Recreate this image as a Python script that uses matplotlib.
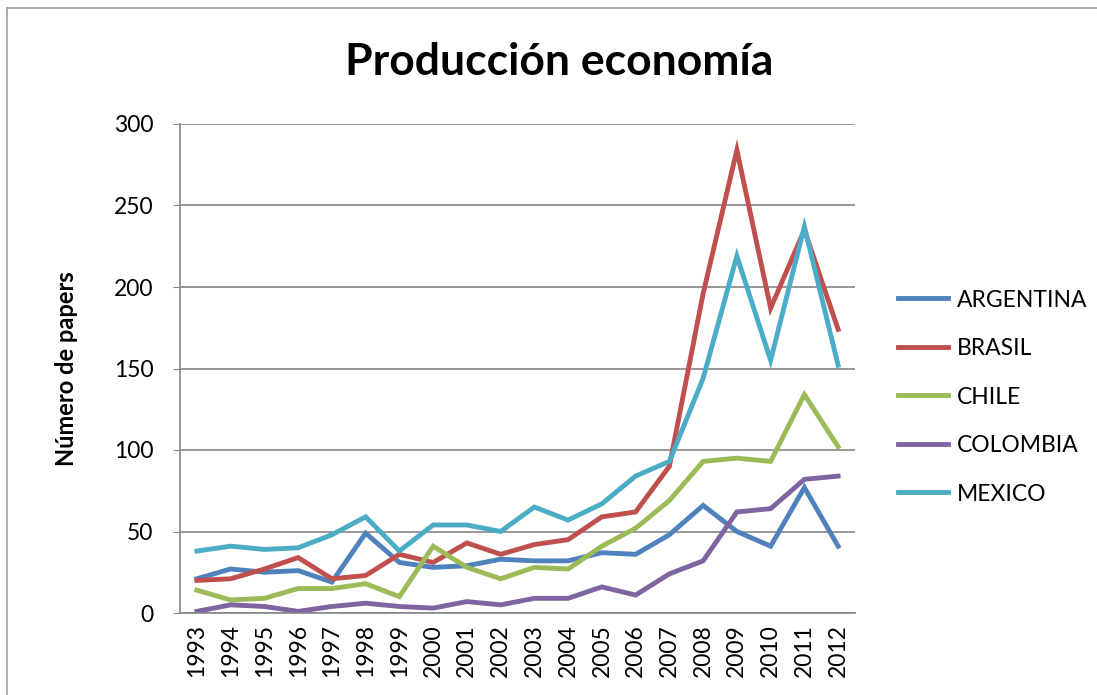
import numpy as np
import matplotlib
matplotlib.use("Agg")
import matplotlib.pyplot as plt
from matplotlib.lines import Line2D

years = list(range(1993, 2013))
argentina = [21, 27, 25, 26, 19, 49, 31, 28, 29, 33, 32, 32, 37, 36, 48, 66, 50, 41, 77, 41]
brasil = [20, 21, 27, 34, 21, 23, 36, 31, 43, 36, 42, 45, 59, 62, 90, 196, 284, 187, 235, 174]
chile = [14, 8, 9, 15, 15, 18, 10, 41, 28, 21, 28, 27, 41, 52, 69, 93, 95, 93, 134, 102]
colombia = [1, 5, 4, 1, 4, 6, 4, 3, 7, 5, 9, 9, 16, 11, 24, 32, 62, 64, 82, 84]
mexico = [38, 41, 39, 40, 48, 59, 38, 54, 54, 50, 65, 57, 67, 84, 93, 144, 219, 155, 237, 152]

series = ["ARGENTINA", "BRASIL", "CHILE", "COLOMBIA", "MEXICO"]
colores = ["#4F81BD", "#C0504D", "#9BBB59", "#8064A2", "#4BACC6"]
datos = [argentina, brasil, chile, colombia, mexico]

plt.rcParams['font.family'] = ['Lato', 'DejaVu Sans']

W, H = 1097, 695
fig = plt.figure(figsize=(W / 100, H / 100), dpi=100)
ax = fig.add_axes([180 / W, 1 - 613 / H, (855 - 180) / W, (613 - 124) / H])

x = np.arange(len(years))
for nombre, col, vals in zip(series, colores, datos):
    ax.plot(x, vals, color=col, lw=3.5, label=nombre, solid_joinstyle='miter')

ax.set_xlim(-0.5, len(years) - 0.5)
ax.set_ylim(0, 300)
ax.set_yticks(range(0, 301, 50))
ax.set_xticks(x)
ax.set_xticklabels([str(a) for a in years], rotation=90, fontsize=16.5)
ax.tick_params(axis='y', labelsize=16.5, length=5, color='#868686', pad=14)
ax.tick_params(axis='x', length=0, pad=8)
ax.yaxis.grid(True, color='#868686', lw=1.2)
ax.set_axisbelow(True)
for s in ['top', 'right']:
    ax.spines[s].set_visible(False)
for s in ['left', 'bottom']:
    ax.spines[s].set_color('#868686')
    ax.spines[s].set_linewidth(1.2)

ax.set_ylabel("Número de papers", fontsize=17, fontweight='bold', labelpad=26)
fig.text(559 / W, 1 - 62 / H, "Producción economía", ha='center', va='center',
         fontsize=32, fontweight='bold')

handles = [Line2D([], [], color=c, lw=3.5) for c in colores]
fig.legend(handles, series, loc='center left', bbox_to_anchor=(877 / W, 1 - 397 / H),
           frameon=False, fontsize=16.5, handlelength=2.2, handletextpad=0.4,
           labelspacing=1.2)

# borde del área del gráfico
fig.add_artist(Line2D([7 / W, 7 / W], [0, 1 - 8 / H], color='#A0A0A0', lw=1.2))
fig.add_artist(Line2D([7 / W, 1], [1 - 8 / H, 1 - 8 / H], color='#A0A0A0', lw=1.2))

fig.savefig("out.png", dpi=100)
